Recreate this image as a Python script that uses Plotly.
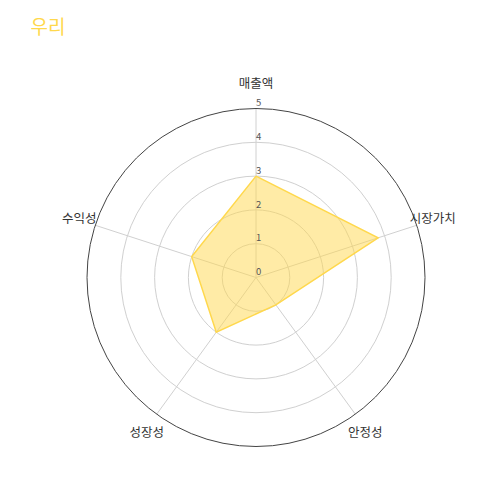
import plotly.graph_objects as go

categories = ["매출액", "시장가치", "안정성", "성장성", "수익성"]
values = [3, 3.8, 1, 2, 2]
tick_values = [0, 1, 2, 3, 4, 5]
tick_labels = ["0", "1", "2", "3", "4", "5"]
title_text = "우리"

line_color = "#FFD84D"
fill_color = "rgba(255,216,77,0.5)"
font_family = "Noto Sans CJK KR, Noto Sans, sans-serif"
label_radius = 5.5
label_positions = ["top center", "middle center", "bottom center", "bottom center", "middle center"]

# polar domains (second, larger one only carries the category labels)
cx, cy, half = 0.496, 0.461, 0.338
outer_range = 6.0
half2 = half * outer_range / 5

fig = go.Figure()
fig.add_trace(go.Scatterpolar(
    r=values + values[:1],
    theta=categories + categories[:1],
    mode="lines",
    line=dict(color=line_color, width=1.5),
    fill="toself",
    fillcolor=fill_color,
    hoverinfo="skip",
    showlegend=False,
))
fig.add_trace(go.Scatterpolar(
    r=tick_values,
    theta=[categories[0]] * len(tick_values),
    mode="text",
    text=tick_labels,
    textposition="top right",
    textfont=dict(size=9.5, color="#555555", family=font_family),
    hoverinfo="skip",
    showlegend=False,
    cliponaxis=False,
))
fig.add_trace(go.Scatterpolar(
    r=[label_radius] * len(categories),
    theta=categories,
    mode="text",
    text=categories,
    textposition=label_positions,
    textfont=dict(size=12.5, color="#333333", family=font_family),
    hoverinfo="skip",
    showlegend=False,
    cliponaxis=False,
    subplot="polar2",
))

hidden_radial = dict(range=[0, outer_range], visible=False)
fig.update_layout(
    width=500, height=500,
    margin=dict(l=0, r=0, t=0, b=0),
    paper_bgcolor="white",
    plot_bgcolor="white",
    font=dict(family=font_family),
    title=dict(text=title_text, x=0.045, xanchor="left", y=0.961, yanchor="middle",
               font=dict(size=19, color=line_color, family=font_family)),
    polar=dict(
        domain=dict(x=[cx - half, cx + half], y=[cy - half, cy + half]),
        bgcolor="white",
        radialaxis=dict(
            range=[0, 5], tickvals=tick_values, showticklabels=False,
            showline=False, ticks="", gridcolor="#d0d0d0", gridwidth=1,
        ),
        angularaxis=dict(
            rotation=90, direction="clockwise",
            categoryorder="array", categoryarray=categories,
            showline=True, linecolor="#444444", linewidth=1,
            gridcolor="#d0d0d0", gridwidth=1, ticks="",
            showticklabels=False,
        ),
    ),
    polar2=dict(
        domain=dict(x=[cx - half2, cx + half2], y=[cy - half2, cy + half2]),
        bgcolor="rgba(0,0,0,0)",
        radialaxis=dict(range=[0, outer_range], showgrid=False, showline=False,
                        showticklabels=False, ticks=""),
        angularaxis=dict(
            rotation=90, direction="clockwise",
            categoryorder="array", categoryarray=categories,
            showline=False, showgrid=False, showticklabels=False, ticks="",
        ),
    ),
)

fig.write_html("out.html")
